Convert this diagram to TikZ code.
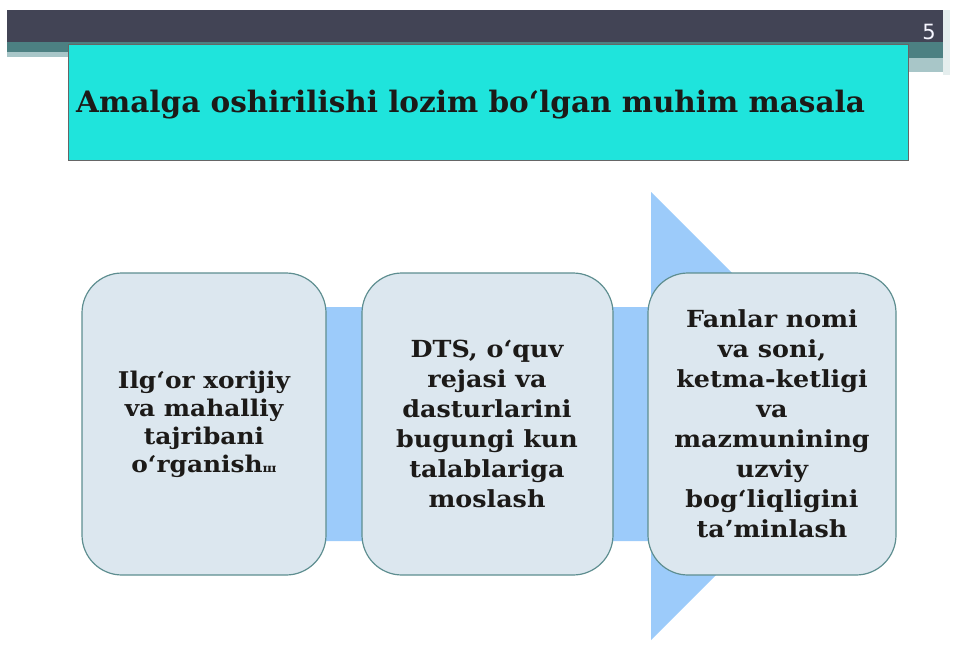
\documentclass[tikz,border=0pt]{standalone}
\usepackage{fontspec}
\setmainfont{DejaVu Serif}
\newfontfamily\numfont{DejaVu Sans}
\newfontfamily\titlefont{DejaVu Serif}
\newfontfamily\boxfont{DejaVu Serif}[FakeStretch=1.08]
\definecolor{barDark}{HTML}{424455}
\definecolor{barTeal}{HTML}{4C8082}
\definecolor{barLight}{HTML}{A8C6C8}
\definecolor{titleCyan}{HTML}{1FE4DC}
\definecolor{arrowBlue}{HTML}{9CCBFA}
\definecolor{boxFill}{HTML}{DCE7EF}
\definecolor{boxLine}{HTML}{5E8E90}
\definecolor{txt}{HTML}{1C1A18}
\tikzset{
  stagebox/.style={draw=boxLine, line width=1.2pt, fill=boxFill, rounded corners=40pt},
  stagetext/.style={text=txt, align=center, font=\boxfont\bfseries\fontsize{23.5}{30}\selectfont, inner sep=0pt},
}
\begin{document}
\begin{tikzpicture}[x=1pt,y=-1pt]
\useasboundingbox (0,0) rectangle (955,654);
% top bars
\fill[barDark] (7,10) rectangle (950,42);
\fill[barTeal] (7,42) rectangle (950,52);
\fill[barLight] (7,52) rectangle (68,57);
\fill[barTeal] (908,52) rectangle (950,58);
\fill[barLight] (908,58) rectangle (950,72);
\fill[white!70!barLight] (943,10) rectangle (950,75);
\node[text=white!85!blue!25, font=\numfont\fontsize{21}{21}\selectfont, anchor=base] (pg) at (929,39) {5};
% title
\node[draw=black!60, line width=0.8pt, fill=titleCyan, minimum width=840pt, minimum height=116pt, anchor=north west, inner sep=0pt] (title) at (68,44) {};
\node[anchor=base west, text=txt, font=\titlefont\bfseries\fontsize{29.5}{32}\selectfont, inner sep=0pt] (titletext) at (76,112) {Amalga oshirilishi lozim bo‘lgan muhim masala};
% big arrow
\fill[arrowBlue] (82,307) -- (651,307) -- (651,192) -- (875,416) -- (651,640) -- (651,541) -- (82,541) -- cycle;
% boxes
\draw[stagebox] (82,273) rectangle (326,575);
\draw[stagebox] (362,273) rectangle (613,575);
\draw[stagebox] (648,273) rectangle (896,575);
\node[stagetext, font=\boxfont\bfseries\fontsize{23}{28}\selectfont] (t1) at (204,424) {Ilg‘or xorijiy\\va mahalliy\\tajribani\\o‘rganish{\fontsize{12}{12}\selectfont ш}};
\node[stagetext] (t2) at (487,424) {DTS, o‘quv\\rejasi va\\dasturlarini\\bugungi kun\\talablariga\\moslash};
\node[stagetext] (t3) at (772,424) {Fanlar nomi\\va soni,\\ketma-ketligi\\va\\mazmunining\\uzviy\\bog‘liqligini\\ta’minlash};
\end{tikzpicture}
\end{document}
